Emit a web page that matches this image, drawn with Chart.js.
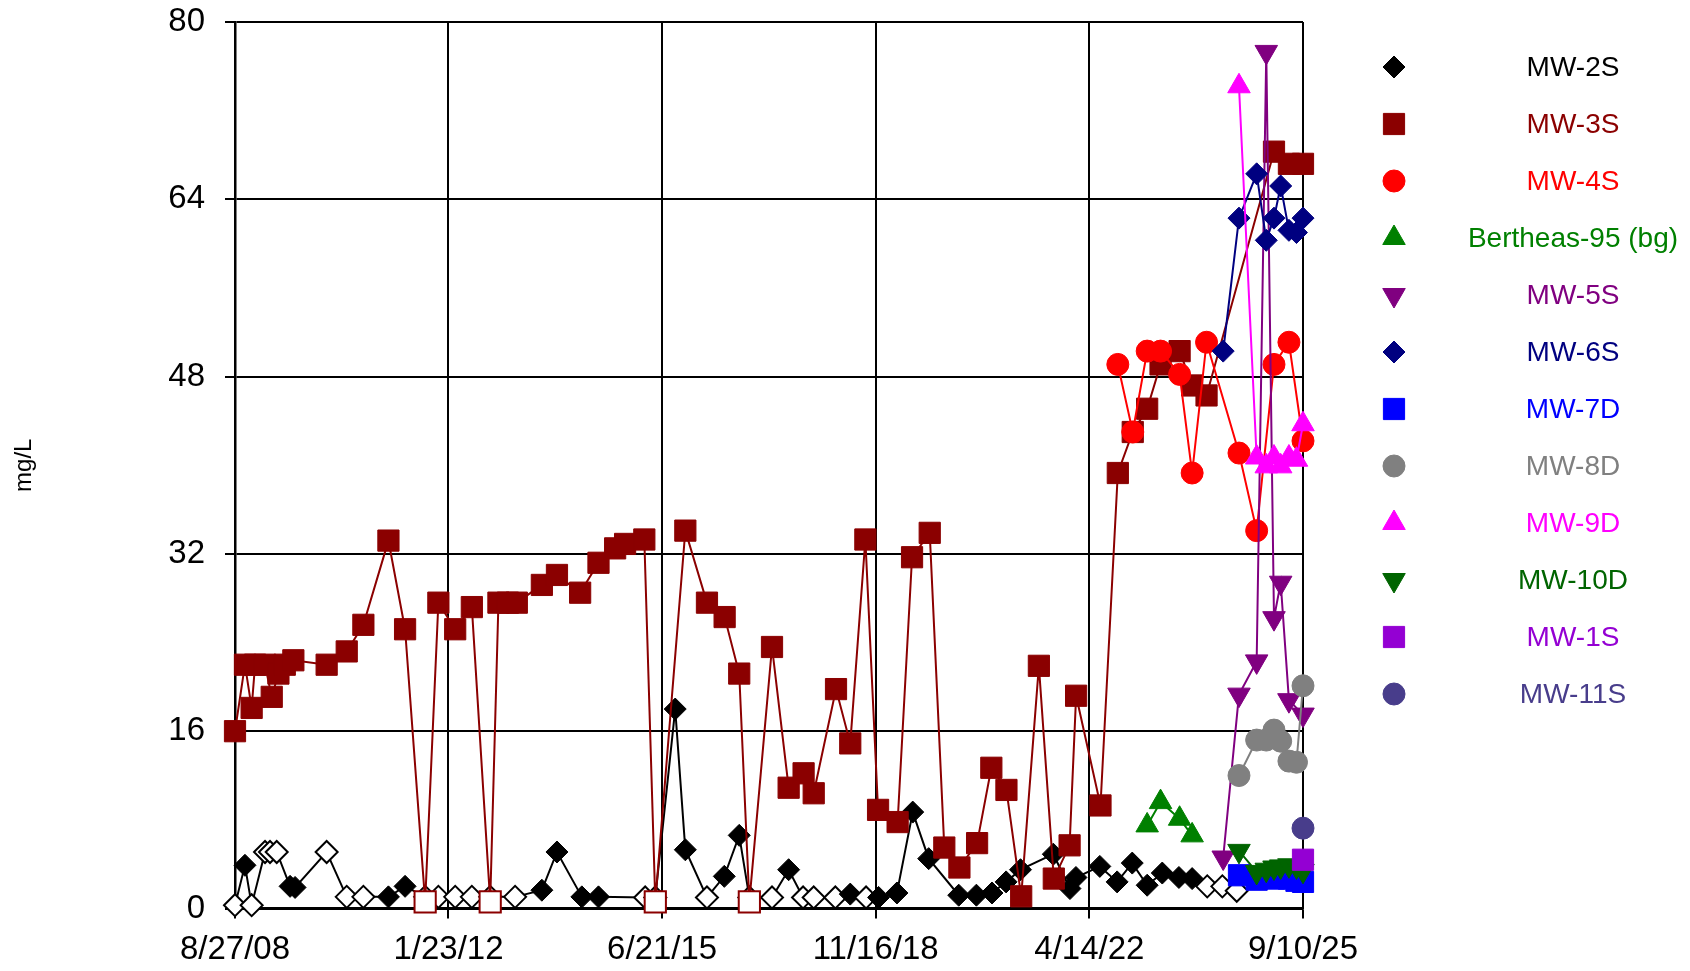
<!DOCTYPE html>
<html>
<head>
<meta charset="utf-8">
<title>mg/L</title>
<script src="https://cdn.jsdelivr.net/npm/chart.js@4.4.1/dist/chart.umd.min.js"></script>
<style>
  html, body { margin: 0; padding: 0; background: #fff; }
  #wrap { width: 1690px; height: 971px; }
</style>
</head>
<body>
<div id="wrap"><canvas id="chart" width="1690" height="971"></canvas></div>
<script>
// --- axis ticks ---
const tickDates = ['2008-08-27', '2012-01-23', '2015-06-21', '2018-11-16', '2022-04-14', '2025-09-10'];
const yTicks = [0, 16, 32, 48, 64, 80];

const seriesNames = ['MW-2S', 'MW-3S', 'MW-4S', 'Bertheas-95 (bg)', 'MW-5S', 'MW-6S',
                     'MW-7D', 'MW-8D', 'MW-9D', 'MW-10D', 'MW-1S', 'MW-11S'];

// --- MW-2S (1 = non-detect, drawn open) ---
const mw2sDates = ['2008-08-27', '2008-10-24', '2008-12-02', '2009-02-18', '2009-03-19', '2009-04-27',
  '2009-07-14', '2009-08-12', '2010-02-12', '2010-06-09', '2010-09-14', '2011-02-07', '2011-05-15',
  '2011-09-09', '2011-11-25', '2012-03-02', '2012-06-07', '2012-09-22', '2013-02-14', '2013-07-20',
  '2013-10-16', '2014-03-10', '2014-06-15', '2015-03-14', '2015-05-12', '2015-09-05', '2015-11-03',
  '2016-03-08', '2016-06-17', '2016-09-12', '2016-11-10', '2017-03-22', '2017-06-27', '2017-09-19',
  '2017-11-20', '2018-03-26', '2018-06-21', '2018-09-21', '2018-12-03', '2019-03-20', '2019-06-20',
  '2019-09-21', '2020-03-14', '2020-06-25', '2020-09-24', '2020-12-15', '2021-03-09', '2021-09-16',
  '2021-12-22', '2022-01-26', '2022-06-14', '2022-09-23', '2022-12-20', '2023-03-17', '2023-06-13',
  '2023-09-18', '2023-12-04', '2024-03-01', '2024-05-28', '2024-08-20'];
const mw2sValues = [0.3, 3.9, 0.3, 5.1, 5.1, 5.1,
  2.0, 1.9, 5.1, 1.05, 1.05, 1.05, 2.0,
  1.05, 1.05, 1.05, 1.05, 1.05, 1.05, 1.65,
  5.1, 1.05, 1.05, 1.0, 1.0, 18.0, 5.3,
  1.0, 2.9, 6.6, 1.0, 1.0, 3.5, 1.0,
  1.0, 1.0, 1.3, 1.0, 1.0, 1.4, 8.7,
  4.5, 1.2, 1.2, 1.4, 2.4, 3.5, 4.9,
  1.8, 2.8, 3.8, 2.4, 4.1, 2.1, 3.2,
  2.8, 2.7, 2.0, 2.0, 1.6];
const mw2sNonDetect = [1, 0, 1, 1, 1, 1,
  0, 0, 1, 1, 1, 0, 0,
  1, 1, 1, 1, 1, 1, 0,
  0, 0, 0, 1, 1, 0, 0,
  1, 0, 0, 1, 1, 0, 1,
  1, 1, 0, 1, 0, 0, 0,
  0, 0, 0, 0, 0, 0, 0,
  0, 0, 0, 0, 0, 0, 0,
  0, 0, 1, 1, 1];

// --- MW-3S ---
const mw3sDates = ['2008-08-27', '2008-10-24', '2008-12-02', '2008-12-22', '2009-02-18', '2009-03-29',
  '2009-05-07', '2009-06-13', '2009-08-02', '2010-02-12', '2010-06-09', '2010-09-14', '2011-02-07',
  '2011-05-15', '2011-09-09', '2011-11-25', '2012-03-02', '2012-06-07', '2012-09-22', '2012-11-09',
  '2013-01-03', '2013-02-24', '2013-07-20', '2013-10-16', '2014-02-28', '2014-06-15', '2014-09-20',
  '2014-11-17', '2015-03-09', '2015-05-12', '2015-11-03', '2016-03-08', '2016-06-19', '2016-09-12',
  '2016-11-10', '2017-03-22', '2017-06-27', '2017-09-22', '2017-11-20', '2018-03-30', '2018-06-21',
  '2018-09-17', '2018-11-30', '2019-03-24', '2019-06-16', '2019-09-27', '2019-12-21', '2020-03-18',
  '2020-06-29', '2020-09-20', '2020-12-17', '2021-03-13', '2021-06-24', '2021-09-19', '2021-12-20',
  '2022-01-27', '2022-06-18', '2022-09-27', '2022-12-23', '2023-03-17', '2023-06-03', '2023-09-22',
  '2023-12-04', '2024-02-26', '2025-03-25', '2025-06-20', '2025-09-10'];
const mw3sValues = [16.0, 22.0, 18.1, 22.0, 22.0, 19.1,
  21.2, 22.0, 22.4, 22.0, 23.2, 25.6, 33.2,
  25.2, 0.6, 27.6, 25.2, 27.2, 0.6, 27.6,
  27.6, 27.6, 29.2, 30.1, 28.5, 31.2, 32.5,
  32.9, 33.3, 0.6, 34.1, 27.6, 26.3, 21.2,
  0.6, 23.6, 10.9, 12.2, 10.4, 19.8, 14.9,
  33.3, 8.9, 7.8, 31.7, 33.9, 5.5, 3.7,
  5.9, 12.7, 10.7, 1.1, 21.9, 2.7, 5.7,
  19.2, 9.3, 39.3, 43.0, 45.1, 49.1, 50.3,
  47.2, 46.3, 68.3, 67.2, 67.2];
const mw3sNonDetect = [0, 0, 0, 0, 0, 0, 0, 0, 0, 0, 0, 0, 0,
  0, 1, 0, 0, 0, 1, 0, 0, 0, 0, 0, 0, 0, 0,
  0, 0, 1, 0, 0, 0, 0, 1, 0, 0, 0, 0, 0, 0,
  0, 0, 0, 0, 0, 0, 0, 0, 0, 0, 0, 0, 0, 0,
  0, 0, 0, 0, 0, 0, 0, 0, 0, 0, 0, 0];

// --- MW-4S ---
const mw4sDates = ['2022-09-27', '2022-12-23', '2023-03-17', '2023-06-03', '2023-09-22', '2023-12-04',
  '2024-02-26', '2024-09-02', '2024-12-14', '2025-03-25', '2025-06-20', '2025-09-10'];
const mw4sValues = [49.1, 43.0, 50.3, 50.3, 48.2, 39.3, 51.1, 41.1, 34.1, 49.1, 51.1, 42.2];

// --- Bertheas-95 (bg) ---
const bertheasDates = ['2023-03-17', '2023-06-03', '2023-09-22', '2023-12-04'];
const bertheasValues = [7.5, 9.6, 8.1, 6.6];

// --- wells sampled from 2024 on ---
const mw5sDates = ['2024-06-02', '2024-09-02', '2024-12-14', '2025-02-08', '2025-03-25', '2025-05-03', '2025-06-20', '2025-09-10'];
const mw5sValues = [4.6, 19.3, 22.3, 77.3, 26.2, 29.4, 18.8, 17.5];

const mw6sDates = ['2024-06-02', '2024-09-02', '2024-12-14', '2025-02-08', '2025-03-25', '2025-05-03', '2025-06-20', '2025-08-03', '2025-09-10'];
const mw6sValues = [50.3, 62.3, 66.3, 60.3, 62.3, 65.2, 61.2, 61.0, 62.3];

const mw7dDates = ['2024-09-02', '2024-12-14', '2025-02-08', '2025-03-25', '2025-05-03', '2025-06-20', '2025-08-03', '2025-09-10'];
const mw7dValues = [3.0, 2.6, 2.8, 2.7, 2.9, 2.7, 2.5, 2.4];

const mw8dDates = ['2024-09-02', '2024-12-14', '2025-02-08', '2025-03-25', '2025-05-03', '2025-06-20', '2025-08-03', '2025-09-10'];
const mw8dValues = [12.0, 15.2, 15.2, 16.1, 15.1, 13.3, 13.2, 20.1];

const mw9dDates = ['2024-09-02', '2024-12-14', '2025-02-08', '2025-03-25', '2025-05-03', '2025-06-20', '2025-08-03', '2025-09-10'];
const mw9dValues = [74.2, 40.7, 39.9, 40.7, 39.9, 40.7, 40.5, 43.7];

const mw10dDates = ['2024-09-02', '2024-12-14', '2025-02-08', '2025-03-25', '2025-05-03', '2025-06-20', '2025-08-03', '2025-09-10'];
const mw10dValues = [5.2, 3.3, 3.5, 3.7, 3.8, 3.9, 3.8, 3.4];

const mw1sDates = ['2025-09-10'];
const mw1sValues = [4.4];

const mw11sDates = ['2025-09-10'];
const mw11sValues = [7.25];

// --- styles (colour, marker) ---
const seriesStyles = [
  { color: '#000000', shape: 'rectRot', radius: 11 },
  { color: '#8B0000', shape: 'rect', radius: 15 },
  { color: '#FF0000', shape: 'circle', radius: 11 },
  { color: '#008000', shape: 'triangle', radius: 13 },
  { color: '#800080', shape: 'triangle', radius: 13, rotation: 180 },
  { color: '#000080', shape: 'rectRot', radius: 11 },
  { color: '#0000FF', shape: 'rect', radius: 15 },
  { color: '#808080', shape: 'circle', radius: 11 },
  { color: '#FF00FF', shape: 'triangle', radius: 13 },
  { color: '#006400', shape: 'triangle', radius: 13, rotation: 180 },
  { color: '#9400D3', shape: 'rect', radius: 15 },
  { color: '#483D8B', shape: 'circle', radius: 11 }
];

const seriesData = [
  [mw2sDates, mw2sValues, mw2sNonDetect],
  [mw3sDates, mw3sValues, mw3sNonDetect],
  [mw4sDates, mw4sValues, null],
  [bertheasDates, bertheasValues, null],
  [mw5sDates, mw5sValues, null],
  [mw6sDates, mw6sValues, null],
  [mw7dDates, mw7dValues, null],
  [mw8dDates, mw8dValues, null],
  [mw9dDates, mw9dValues, null],
  [mw10dDates, mw10dValues, null],
  [mw1sDates, mw1sValues, null],
  [mw11sDates, mw11sValues, null]
];

const fontFamily = "'Liberation Sans', Arial, sans-serif";
Chart.defaults.font.family = fontFamily;
Chart.defaults.color = '#000';

function formatDate(v) {
  const d = new Date(v);
  return (d.getUTCMonth() + 1) + '/' + d.getUTCDate() + '/' + String(d.getUTCFullYear()).slice(2);
}

const datasets = seriesNames.map(function(name, i) {
  const [dates, values, nd] = seriesData[i];
  const st = seriesStyles[i];
  return {
    label: name,
    data: dates.map((d, k) => ({ x: Date.parse(d), y: values[k] })),
    showLine: true,
    borderColor: st.color,
    backgroundColor: st.color,
    borderWidth: 2,
    pointStyle: st.shape,
    pointRadius: st.radius,
    pointRotation: st.rotation || 0,
    pointBorderColor: st.color,
    pointBackgroundColor: c => (nd && nd[c.dataIndex]) ? '#ffffff' : st.color,
    pointBorderWidth: c => (nd && nd[c.dataIndex]) ? 2 : 1,
    clip: false,
    order: seriesNames.length - i
  };
});

// legend drawn on the right: marker, then centred coloured label
const sideLegend = {
  id: 'sideLegend',
  afterDraw(chart) {
    const ctx = chart.ctx;
    ctx.save();
    chart.data.datasets.forEach(function(ds, i) {
      const y = 67 + i * 57;
      ctx.fillStyle = ds.borderColor;
      ctx.strokeStyle = ds.borderColor;
      ctx.lineWidth = 1;
      Chart.helpers.drawPoint(ctx, {
        pointStyle: ds.pointStyle, radius: ds.pointRadius,
        rotation: ds.pointRotation, borderWidth: 1
      }, 1394, y);
      ctx.font = '28px ' + fontFamily;
      ctx.textAlign = 'center';
      ctx.textBaseline = 'middle';
      ctx.fillText(ds.label, 1573, y + 1);
    });
    ctx.restore();
  }
};

new Chart(document.getElementById('chart'), {
  type: 'scatter',
  data: { datasets: datasets },
  options: {
    responsive: false,
    animation: false,
    layout: { padding: { top: 22, right: 387, left: 0, bottom: 0 } },
    plugins: {
      legend: { display: false },
      tooltip: { enabled: false }
    },
    scales: {
      x: {
        type: 'linear',
        min: Date.parse(tickDates[0]),
        max: Date.parse(tickDates[tickDates.length - 1]),
        afterBuildTicks: s => { s.ticks = tickDates.map(d => ({ value: Date.parse(d) })); },
        afterFit: s => { s.height = 62.5; s.paddingLeft = 0; s.paddingRight = 0; },
        grid: { color: '#000', lineWidth: 2, tickLength: 10 },
        border: { color: '#000', width: 2.5 },
        ticks: {
          color: '#000', font: { size: 33 }, padding: 12,
          maxRotation: 0, autoSkip: false, callback: formatDate
        }
      },
      y: {
        min: 0,
        max: 80,
        afterBuildTicks: s => { s.ticks = yTicks.map(v => ({ value: v })); },
        afterFit: s => { s.width = 235; s.paddingTop = 0; s.paddingBottom = 0; },
        grid: { color: '#000', lineWidth: 2, tickLength: 10 },
        border: { color: '#000', width: 2.5 },
        ticks: { color: '#000', font: { size: 33 }, padding: 20 },
        title: {
          display: true, text: 'mg/L', color: '#000',
          font: { size: 24 }, padding: { top: 10, bottom: 0 }
        }
      }
    }
  },
  plugins: [sideLegend]
});
</script>
</body>
</html>
